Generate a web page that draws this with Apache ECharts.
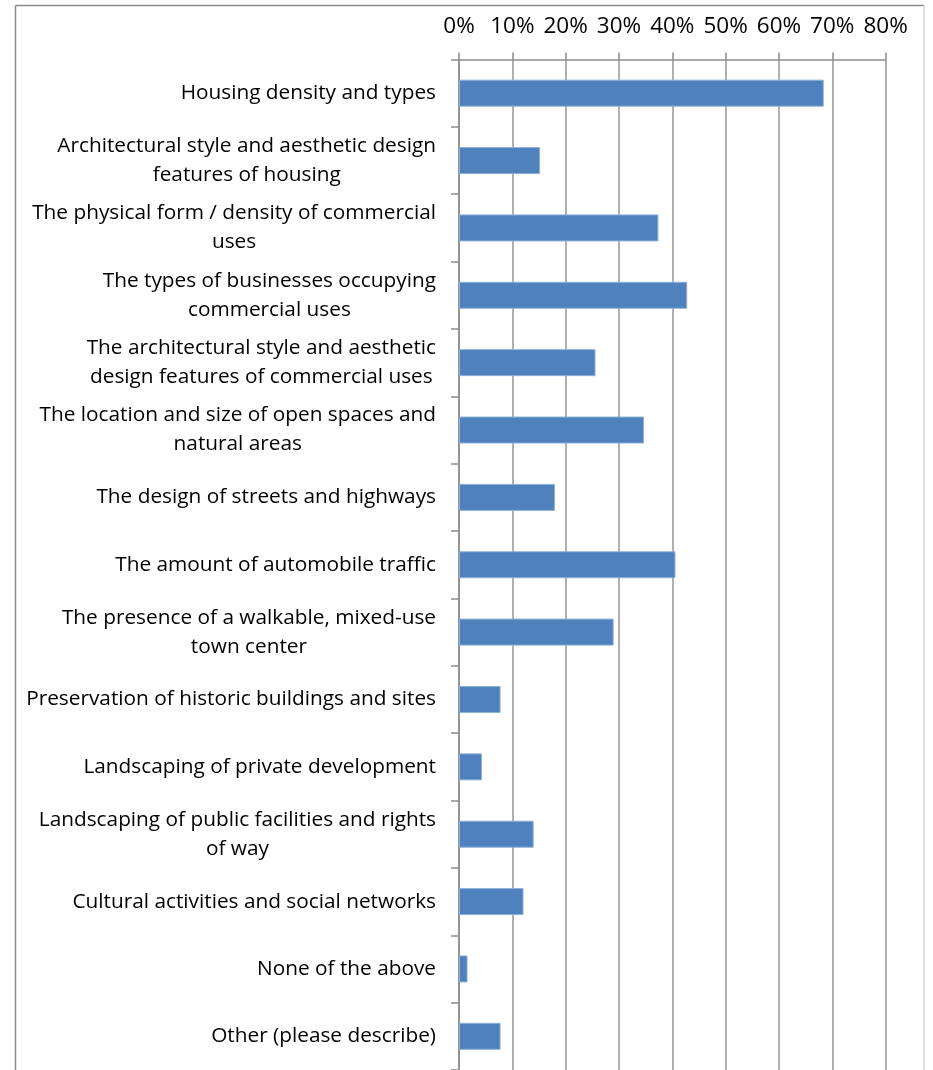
<!DOCTYPE html>
<html>
<head>
<meta charset="utf-8">
<script src="https://cdn.jsdelivr.net/npm/echarts@6/dist/echarts.min.js"></script>
<style>
html,body{margin:0;padding:0;background:#fff;}
#chart{width:933px;height:1070px;}
</style>
</head>
<body>
<div id="chart"></div>
<script>
const categories = [
  "Housing density and types",
  "Architectural style and aesthetic design\nfeatures of housing",
  "The physical form / density of commercial\nuses",
  "The types of businesses occupying\ncommercial uses",
  "The architectural style and aesthetic\ndesign features of commercial uses",
  "The location and size of open spaces and\nnatural areas",
  "The design of streets and highways",
  "The amount of automobile traffic",
  "The presence of a walkable, mixed-use\ntown center",
  "Preservation of historic buildings and sites",
  "Landscaping of private development",
  "Landscaping of public facilities and rights\nof way",
  "Cultural activities and social networks",
  "None of the above",
  "Other (please describe)"
];
const values = [68.4, 15.2, 37.4, 42.8, 25.6, 34.7, 18.0, 40.6, 29.0, 7.8, 4.3, 14.0, 12.1, 1.6, 7.8];
const xTicks = [0, 10, 20, 30, 40, 50, 60, 70, 80];

const FONT = "'Open Sans', 'Liberation Sans', sans-serif";
const chart = echarts.init(document.getElementById('chart'), null, {renderer: 'canvas'});
chart.setOption({
  animation: false,
  backgroundColor: '#ffffff',
  graphic: [
    {type: 'line', shape: {x1: 15.5, y1: 5.5, x2: 924, y2: 5.5}, style: {stroke: '#8a8a8a', lineWidth: 1.5}, silent: true},
    {type: 'line', shape: {x1: 15.5, y1: 5.5, x2: 15.5, y2: 1075}, style: {stroke: '#8a8a8a', lineWidth: 1.5}, silent: true},
    {type: 'line', shape: {x1: 924, y1: 5.5, x2: 924, y2: 1075}, style: {stroke: '#d4d4d4', lineWidth: 1.5}, silent: true}
  ],
  grid: {left: 459, right: 47.4, top: 59.5, bottom: -2, containLabel: false},
  xAxis: {
    type: 'value',
    position: 'top',
    min: xTicks[0],
    max: xTicks[xTicks.length - 1],
    interval: 10,
    axisLine: {show: true, lineStyle: {color: '#8c8c8c', width: 1.5}},
    axisTick: {show: true, length: 7, lineStyle: {color: '#8c8c8c', width: 1.5}},
    splitLine: {show: true, lineStyle: {color: '#969696', width: 1.5}},
    axisLabel: {
      formatter: '{value}%',
      color: '#000',
      fontFamily: FONT,
      fontSize: 22.5,
      margin: 21
    }
  },
  yAxis: {
    type: 'category',
    data: categories,
    inverse: true,
    axisLine: {show: true, lineStyle: {color: '#8c8c8c', width: 1.5}},
    axisTick: {show: true, length: 8, lineStyle: {color: '#8c8c8c', width: 1.5}},
    splitLine: {show: false},
    axisLabel: {
      interval: 0,
      margin: 23,
      align: 'right',
      color: '#000',
      fontFamily: FONT,
      fontSize: 20.8,
      lineHeight: 29,
      formatter: function (v) {
        return v.split('\n').map(function (s) { return '{c|' + s + '}'; }).join('\n');
      },
      rich: {
        c: {align: 'center', fontFamily: FONT, fontSize: 20.8, lineHeight: 29, color: '#000'}
      }
    }
  },
  series: [{
    type: 'bar',
    data: values,
    barWidth: 27,
    itemStyle: {color: '#4F81BD', borderColor: '#8FB0DA', borderWidth: 1},
    silent: true
  }]
});
</script>
</body>
</html>
